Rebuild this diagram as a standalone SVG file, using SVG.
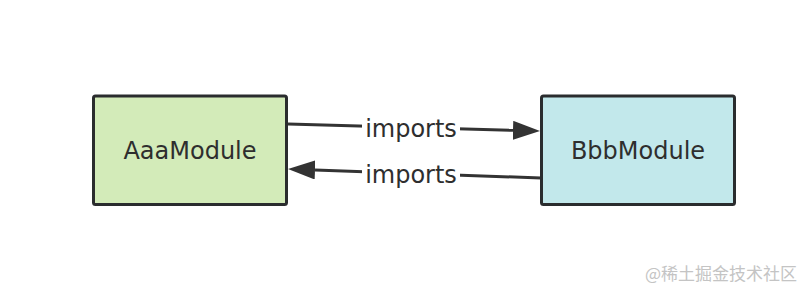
<svg xmlns="http://www.w3.org/2000/svg" width="810" height="294" viewBox="0 0 810 294">
<defs>
<style>
.box{stroke:#2a2c2e;stroke-width:3}
.lbl{font-family:"DejaVu Sans",sans-serif;font-size:24px;fill:#2e2e2e;text-anchor:middle}
.edge{stroke:#333;stroke-width:3;fill:none}
.bg{fill:#fff}
</style>
<marker id="ah" viewBox="0 0 27 19" refX="0" refY="9.5" markerWidth="27" markerHeight="19" markerUnits="userSpaceOnUse" orient="auto">
<path d="M0,0 L27,9.5 L0,19 z" fill="#333"/>
</marker>
</defs>
<rect width="810" height="294" fill="#fff"/>
<g id="connectors">
<line class="edge" x1="288" y1="124" x2="513" y2="130.3" marker-end="url(#ah)"/>
<line class="edge" x1="541" y1="178" x2="315" y2="170" marker-end="url(#ah)"/>
<rect class="bg" x="362" y="117" width="98" height="24"/>
<text class="lbl" x="411" y="137">imports</text>
<rect class="bg" x="362" y="162" width="98" height="24"/>
<text class="lbl" x="411" y="182.5">imports</text>
</g>
<g id="AaaModule">
<rect class="box" x="93.5" y="96" width="193" height="108.5" rx="2" fill="#d3ebb9"/>
<text class="lbl" x="190" y="159">AaaModule</text>
</g>
<g id="BbbModule">
<rect class="box" x="541.5" y="96" width="193" height="108.5" rx="2" fill="#c2e8eb"/>
<text class="lbl" x="638" y="159">BbbModule</text>
</g>
<text x="645" y="280" font-family="'Noto Sans CJK SC',sans-serif" font-size="17" fill="#c4c4c4">@稀土掘金技术社区</text>
</svg>
